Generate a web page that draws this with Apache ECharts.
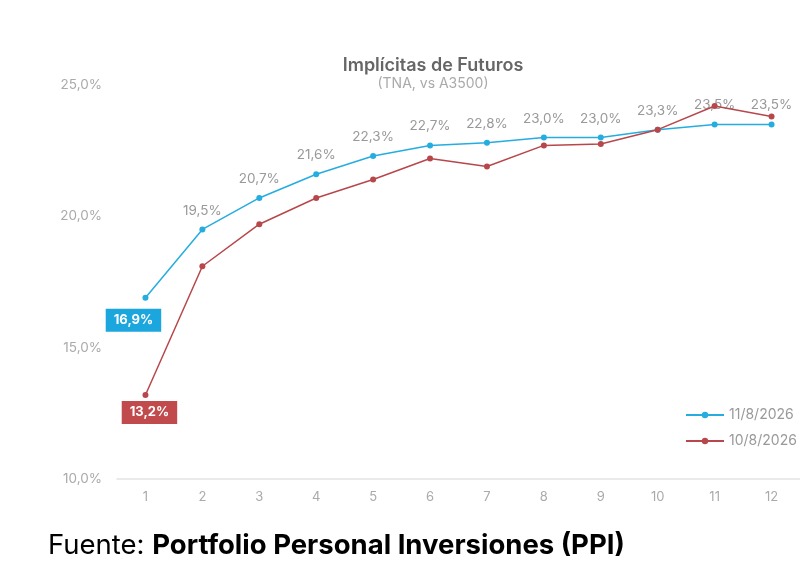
<!DOCTYPE html>
<html lang="es">

<head>
    <meta charset="UTF-8">
    <title>Implícitas de Futuros</title>
    <style>
        html, body { margin: 0; padding: 0; background: #fff; }
        #chart { width: 800px; height: 579px; }
    </style>
</head>

<body>
    <div id="chart"></div>

    <script src="https://cdn.jsdelivr.net/npm/echarts@6/dist/echarts.min.js"></script>
    <script>
        var months = ['1', '2', '3', '4', '5', '6', '7', '8', '9', '10', '11', '12'];
        var serie1108 = [16.9, 19.5, 20.7, 21.6, 22.3, 22.7, 22.8, 23.0, 23.0, 23.3, 23.5, 23.5]; // 11/8/2026
        var serie1008 = [13.2, 18.1, 19.7, 20.7, 21.4, 22.2, 21.9, 22.7, 22.75, 23.3, 24.2, 23.8]; // 10/8/2026
        var yTicks = [10, 15, 20, 25];

        var BLUE = '#25ade0';
        var RED = '#b8474b';
        var FONT = 'Inter, "Noto Sans", sans-serif';

        function pct(v) {
            return v.toFixed(1).replace('.', ',') + '%';
        }

        (function initChart() {
            var myChart = echarts.init(document.getElementById('chart'));

            // first point of each series gets a coloured box instead of the plain label
            var blueData = serie1108.map(function (v, i) {
                if (i > 0) return v;
                return {
                    value: v,
                    label: {
                        show: true,
                        position: 'bottom',
                        distance: 8,
                        offset: [-12, 0],
                        color: '#fff',
                        fontWeight: 'bold',
                        fontSize: 13,
                        backgroundColor: '#1ba6de',
                        padding: [5, 8, 5, 8]
                    }
                };
            });
            var redData = serie1008.map(function (v, i) {
                if (i > 0) return v;
                return {
                    value: v,
                    label: {
                        show: true,
                        position: 'bottom',
                        distance: 3,
                        offset: [4, 0],
                        color: '#fff',
                        fontWeight: 'bold',
                        fontSize: 13,
                        backgroundColor: '#c04a4c',
                        padding: [5, 8, 5, 8]
                    }
                };
            });

            var options = {
                backgroundColor: '#fff',
                textStyle: { fontFamily: FONT },
                title: {
                    text: 'Implícitas de Futuros',
                    subtext: '(TNA, vs A3500)',
                    left: 428,
                    textAlign: 'center',
                    top: 52,
                    itemGap: 2,
                    textStyle: { fontSize: 18, fontWeight: 600, color: '#666', fontFamily: FONT },
                    subtextStyle: { fontSize: 14, color: '#aaa', fontFamily: FONT }
                },
                legend: {
                    orient: 'vertical',
                    left: 680,
                    top: 403,
                    itemWidth: 38,
                    itemHeight: 8,
                    itemGap: 12,
                    textStyle: { fontSize: 14, color: '#999', fontFamily: FONT },
                    data: ['11/8/2026', '10/8/2026']
                },
                grid: {
                    left: 117,
                    right: 0,
                    top: 85,
                    bottom: 100
                },
                xAxis: {
                    type: 'category',
                    data: months,
                    boundaryGap: true,
                    axisLine: { lineStyle: { color: '#e3e3e3', width: 1.5 } },
                    axisTick: { show: false },
                    axisLabel: { color: '#aaa', fontSize: 13, margin: 12 }
                },
                yAxis: {
                    type: 'value',
                    min: yTicks[0],
                    max: yTicks[yTicks.length - 1],
                    interval: 5,
                    axisLine: { show: false },
                    axisTick: { show: false },
                    splitLine: { show: false },
                    axisLabel: {
                        color: '#aaa',
                        fontSize: 13.5,
                        margin: 15,
                        formatter: function (v) { return pct(v); }
                    }
                },
                series: [{
                    name: '11/8/2026',
                    type: 'line',
                    data: blueData,
                    symbol: 'circle',
                    symbolSize: 6,
                    color: BLUE,
                    lineStyle: { width: 1.5, color: BLUE },
                    itemStyle: { color: BLUE },
                    z: 3,
                    label: {
                        show: true,
                        position: 'top',
                        distance: 9,
                        color: '#999',
                        fontSize: 13.5,
                        formatter: function (p) { return pct(p.value); }
                    }
                }, {
                    name: '10/8/2026',
                    type: 'line',
                    data: redData,
                    symbol: 'circle',
                    symbolSize: 6,
                    color: RED,
                    lineStyle: { width: 1.5, color: RED },
                    itemStyle: { color: RED },
                    z: 4,
                    label: {
                        show: false,
                        formatter: function (p) { return pct(p.value); }
                    }
                }],
                graphic: [{
                    type: 'text',
                    left: 48,
                    top: 532,
                    style: {
                        text: '{a|Fuente: }{b|Portfolio Personal Inversiones (PPI)}',
                        rich: {
                            a: { fontSize: 27.5, color: '#222', fontFamily: FONT },
                            b: { fontSize: 27.5, color: '#111', fontWeight: 'bold', fontFamily: FONT }
                        }
                    }
                }]
            };

            myChart.setOption(options, true);
        })();
    </script>
</body>

</html>
